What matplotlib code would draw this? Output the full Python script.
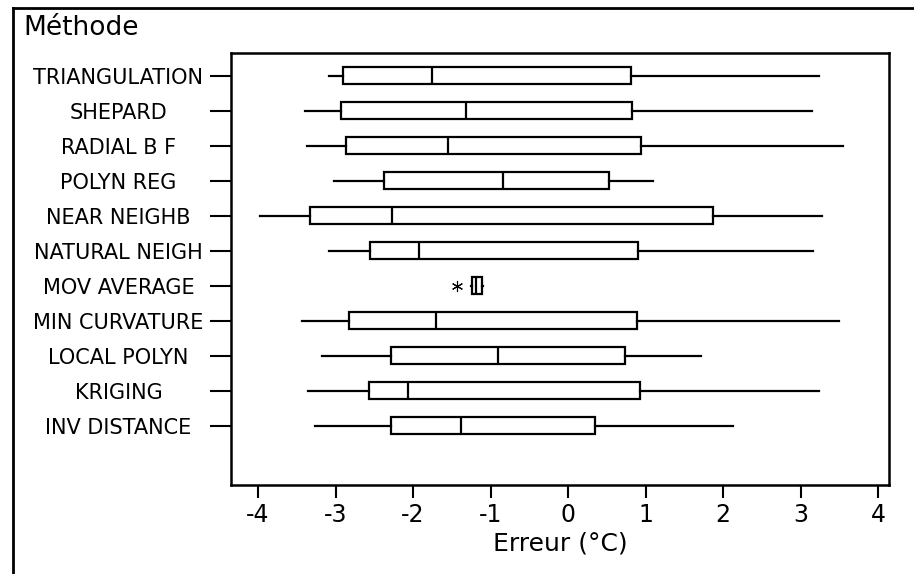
import matplotlib
matplotlib.use('Agg')
import matplotlib.pyplot as plt
from matplotlib.lines import Line2D

# boxplot stats (erreur en degres C)
methods = ['TRIANGULATION', 'SHEPARD', 'RADIAL B F', 'POLYN REG', 'NEAR NEIGHB',
           'NATURAL NEIGH', 'MOV AVERAGE', 'MIN CURVATURE', 'LOCAL POLYN',
           'KRIGING', 'INV DISTANCE']
whislo = [-3.08, -3.39, -3.37, -3.02, -3.97, -3.09, -1.25, -3.43, -3.17, -3.36, -3.26]
q1 = [-2.91, -2.93, -2.87, -2.37, -3.33, -2.55, -1.24, -2.83, -2.29, -2.57, -2.29]
med = [-1.75, -1.32, -1.55, -0.84, -2.27, -1.93, -1.19, -1.70, -0.90, -2.06, -1.38]
q3 = [0.81, 0.83, 0.94, 0.53, 1.87, 0.90, -1.11, 0.89, 0.73, 0.93, 0.35]
whishi = [3.24, 3.14, 3.54, 1.10, 3.27, 3.16, -1.10, 3.50, 1.71, 3.24, 2.13]
outliers = [[], [], [], [], [], [], [-1.43], [], [], [], []]
xticks = [-4, -3, -2, -1, 0, 1, 2, 3, 4]

stats = []
for i in range(len(methods)):
    stats.append({'whislo': whislo[i], 'q1': q1[i], 'med': med[i],
                  'q3': q3[i], 'whishi': whishi[i], 'fliers': outliers[i]})

fig = plt.figure(figsize=(9.14, 5.74), dpi=100)
ax = fig.add_axes([0.2527, 0.155, 0.72, 0.7527])

pos = list(range(1, len(methods) + 1))
ax.bxp(stats, positions=pos, vert=False, widths=0.5, showcaps=False,
       patch_artist=True,
       boxprops=dict(facecolor='white', edgecolor='black', linewidth=1.6),
       medianprops=dict(color='black', linewidth=1.6),
       whiskerprops=dict(color='black', linewidth=1.6),
       flierprops=dict(marker=(6, 2, 0), markersize=8, markeredgecolor='black',
                       markeredgewidth=0.8, linestyle='none'))

ax.set_ylim(12.7, 0.35)
ax.set_xlim(-4.35, 4.14)
ax.set_xticks(xticks)
ax.set_xticklabels([str(t) for t in xticks], fontsize=17)
ax.set_yticks(pos)
ax.set_yticklabels(methods, fontsize=15, ha='center')
ax.tick_params(axis='y', length=15, width=1.5, pad=66)
ax.tick_params(axis='x', length=9, width=1.5, pad=4)
for s in ax.spines.values():
    s.set_linewidth(1.8)

ax.set_xlabel('Erreur (°C)', fontsize=18, labelpad=3)
fig.text(0.026, 0.952, 'Méthode', fontsize=19, va='center', ha='left')

# outer frame, only top and left visible
fig.add_artist(Line2D([13 / 914, 13 / 914], [0, 1 - 8 / 574], color='black', lw=2))
fig.add_artist(Line2D([13 / 914, 1], [1 - 8 / 574, 1 - 8 / 574], color='black', lw=2))

fig.savefig('out.png', dpi=100)
